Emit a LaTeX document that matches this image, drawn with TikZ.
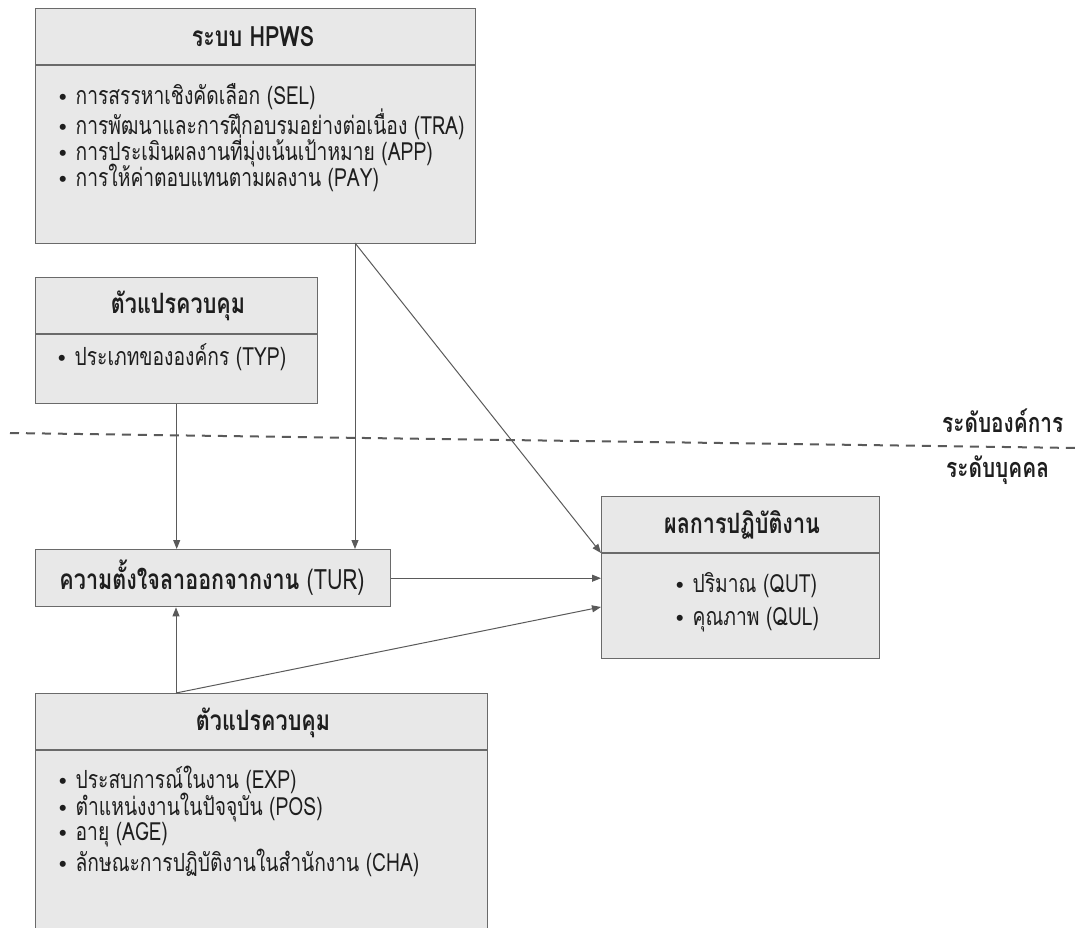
\documentclass[tikz,border=0pt]{standalone}
\usepackage{fontspec}
\setmainfont[Script=Thai, FakeStretch=0.77]{Loma}
\newfontfamily\bulfont{Latin Modern Roman}
\usetikzlibrary{arrows.meta}
\definecolor{boxfill}{HTML}{E8E8E8}
\definecolor{boxline}{HTML}{6A6A6A}
\definecolor{txt}{HTML}{1E1E1E}
\definecolor{arr}{HTML}{5A5A5A}
\newcommand{\bul}{{\bulfont\fontsize{27}{28}\selectfont •}\hspace{3pt}}
\begin{document}
\begin{tikzpicture}[x=1pt,y=-1pt,
  box/.style={draw=boxline, fill=boxfill, line width=1.4pt, anchor=north west, inner sep=0pt},
  divider/.style={draw=boxline, line width=1.2pt},
  title/.style={font=\fontsize{28}{30}\selectfont\bfseries, text=txt, inner sep=0pt},
  item/.style={font=\fontsize{25}{28}\selectfont, text=txt, anchor=west, inner sep=0pt},
  conn/.style={draw=arr, line width=1pt, -{Triangle[length=9pt,width=7pt]}},
  lvl/.style={font=\fontsize{27}{30}\selectfont\bfseries, text=txt, anchor=west, inner sep=0pt}
]
\useasboundingbox (0,0) rectangle (1076,927);
\clip (0,0) rectangle (1076,927);

% HPWS box
\node[box, minimum width=440pt, minimum height=235pt] (hpws) at (35,8) {};
\draw[divider] (35,65) -- (475,65);
\node[title] (hpwsT) at (253,37) {ระบบ HPWS};
\node[item] (s1) at (53,97) {\bul การสรรหาเชิงคัดเลือก (SEL)};
\node[item] (s2) at (53,124) {\bul การพัฒนาและการฝึกอบรมอย่างต่อเนื่อง (TRA)};
\node[item] (s3) at (53,151) {\bul การประเมินผลงานที่มุ่งเน้นเป้าหมาย (APP)};
\node[item] (s4) at (53,178) {\bul การให้ค่าตอบแทนตามผลงาน (PAY)};

% Control 1
\node[box, minimum width=282pt, minimum height=126pt] (c1) at (35,277) {};
\draw[divider] (35,334) -- (317,334);
\node[title] (c1T) at (178,306) {ตัวแปรควบคุม};
\node[item] (c1a) at (52,357) {\bul ประเภทขององค์กร (TYP)};

% TUR
\node[box, minimum width=355pt, minimum height=57pt] (tur) at (35,549) {};
\node[title] (turT) at (212,578) {ความตั้งใจลาออกจากงาน \mdseries(TUR)};

% Performance
\node[box, minimum width=278pt, minimum height=162pt] (perf) at (601,496) {};
\draw[divider] (601,553) -- (879,553);
\node[title] (perfT) at (742,525) {ผลการปฏิบัติงาน};
\node[item] (p1) at (670,585) {\bul ปริมาณ (QUT)};
\node[item] (p2) at (670,620) {\bul คุณภาพ (QUL)};

% Control 2
\node[box, minimum width=452pt, minimum height=260pt] (c2) at (35,693) {};
\draw[divider] (35,750) -- (487,750);
\node[title] (c2T) at (263,723) {ตัวแปรควบคุม};
\node[item] (e1) at (53,780) {\bul ประสบการณ์ในงาน (EXP)};
\node[item] (e2) at (53,808) {\bul ตำแหน่งงานในปัจจุบัน (POS)};
\node[item] (e3) at (53,835) {\bul อายุ (AGE)};
\node[item] (e4) at (53,863) {\bul ลักษณะการปฏิบัติงานในสำนักงาน (CHA)};

% level separator
\coordinate (dl) at (10,433);
\coordinate (dr) at (1076,448);
\draw[draw=arr, line width=2pt, dash pattern=on 9pt off 7pt] (dl) -- (dr);
\node[lvl] (org) at (942,421) {ระดับองค์การ};
\node[lvl] (ind) at (946,470) {ระดับบุคคล};

% connectors
\coordinate (hpOut) at (355,243);
\coordinate (pfTop) at (601,553);
\coordinate (c2Out) at (176,693);
\coordinate (pfLow) at (601,607);
\draw[conn] (hpOut) -- (hpOut |- tur.north);
\draw[conn] (hpOut) -- (pfTop);
\draw[conn] (c1.south) -- (c1.south |- tur.north);
\draw[conn] (tur.east) -- (tur.east -| perf.west);
\draw[conn] (c2Out) -- (c2Out |- tur.south);
\draw[conn] (c2Out) -- (pfLow);
\end{tikzpicture}
\end{document}
